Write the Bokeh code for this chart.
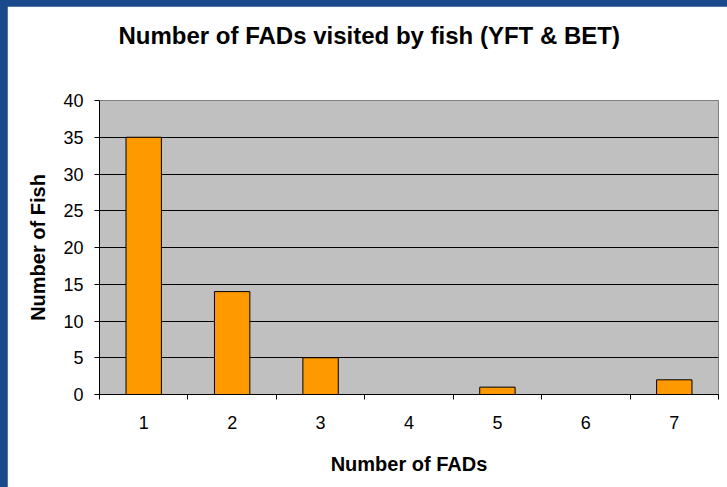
from bokeh.plotting import figure
from bokeh.models import Range1d, FixedTicker, ColumnDataSource, GlobalInlineStyleSheet, Title
from bokeh.embed import file_html
from bokeh.resources import INLINE

title_text = "Number of FADs visited by fish (YFT & BET)"
fads = [1, 2, 3, 4, 5, 6, 7]
fish = [35, 14, 5, 0, 1, 0, 2]
y_ticks = [0, 5, 10, 15, 20, 25, 30, 35, 40]

src = ColumnDataSource(dict(x=fads, top=fish))

p = figure(width=720, height=481, output_backend="svg", toolbar_location=None,
           x_range=Range1d(0.5, 7.5), y_range=Range1d(0, 40),
           min_border_left=92, min_border_right=9, min_border_top=94, min_border_bottom=93)

p.stylesheets = [GlobalInlineStyleSheet(
    css="html { background: #1a4a8c; overflow: hidden; } "
        "body { margin: 0; padding: 6px 0 0 7px; background: transparent; overflow: hidden; }")]

p.background_fill_color = "#C0C0C0"
p.border_fill_color = "white"
p.outline_line_color = "#808080"
p.outline_line_width = 1

FONT = "Liberation Sans"

p.title.text = ""

spacer = Title(text=" ", text_font_size="1px", standoff=32)
p.add_layout(spacer, "above")

main = Title(text=title_text, align="left", vertical_align="top", offset=19,
             text_font=FONT, text_font_size="24px", text_font_style="bold",
             text_color="black", standoff=30)
p.add_layout(main, "above")

p.vbar(x="x", top="top", width=0.4, source=src, fill_color="#FF9900",
       line_color="black", line_width=1)

xa = p.xaxis[0]
xa.ticker = FixedTicker(ticks=fads, minor_ticks=[0.5 + i for i in range(8)])
xa.major_tick_line_color = None
xa.minor_tick_line_color = "black"
xa.minor_tick_out = 5
xa.minor_tick_in = 0
xa.axis_line_color = "black"
xa.major_label_text_font = FONT
xa.major_label_text_font_size = "18px"
xa.major_label_text_color = "black"
xa.major_label_standoff = 15
xa.axis_label = "Number of FADs"
xa.axis_label_text_font = FONT
xa.axis_label_text_font_size = "20px"
xa.axis_label_text_font_style = "bold"
xa.axis_label_text_color = "black"
xa.axis_label_standoff = 21

ya = p.yaxis[0]
ya.ticker = FixedTicker(ticks=y_ticks)
ya.major_tick_line_color = "black"
ya.major_tick_out = 5
ya.major_tick_in = 0
ya.minor_tick_line_color = None
ya.axis_line_color = "black"
ya.major_label_text_font = FONT
ya.major_label_text_font_size = "18px"
ya.major_label_text_color = "black"
ya.major_label_standoff = 11
ya.axis_label = "Number of Fish"
ya.axis_label_text_font = FONT
ya.axis_label_text_font_size = "20px"
ya.axis_label_text_font_style = "bold"
ya.axis_label_text_color = "black"
ya.axis_label_standoff = 11

p.xgrid.grid_line_color = None
p.ygrid.grid_line_color = "black"
p.ygrid.grid_line_width = 1
p.ygrid.grid_line_alpha = 1

open("out.html", "w").write(file_html(p, INLINE))
